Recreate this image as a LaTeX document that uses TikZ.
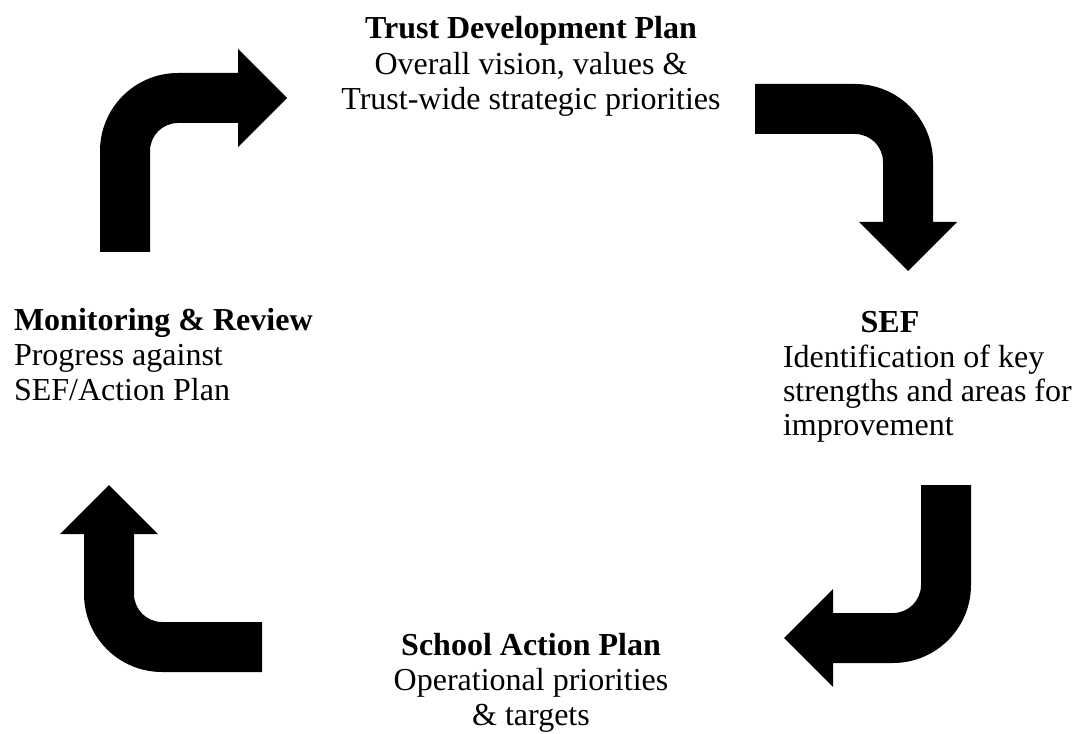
\documentclass[tikz,border=0pt]{standalone}
\usepackage{fontspec}
\setmainfont{Liberation Serif}
\begin{document}
\begin{tikzpicture}[x=0.75pt,y=-0.75pt,
  bentarrow/.style={fill=black,draw=none},
  txt/.style={inner sep=0pt,outer sep=0pt,font=\fontsize{24}{27}\selectfont},
  ttl/.style={txt,font=\fontsize{24}{27}\selectfont\bfseries}]
\useasboundingbox[fill=white] (0,0) rectangle (1074,734);

% top-left arrow (up, then right)
\fill[bentarrow] (100,252) -- (100,151) arc[start angle=180,end angle=270,radius=78]
  -- (238,73) -- (238,49) -- (287,98) -- (238,147) -- (238,123) -- (178,123)
  arc[start angle=270,end angle=180,radius=28] -- (150,252) -- cycle;

% top-right arrow (right, then down)
\fill[bentarrow] (755,84) -- (855,84) arc[start angle=270,end angle=360,radius=78]
  -- (933,222) -- (957,222) -- (908,271) -- (859,222) -- (883,222) -- (883,162)
  arc[start angle=0,end angle=-90,radius=28] -- (755,134) -- cycle;

% bottom-right arrow (down, then left)
\fill[bentarrow] (921,485) -- (971,485) -- (971,585) arc[start angle=0,end angle=90,radius=78]
  -- (833,663) -- (833,687) -- (784,638) -- (833,589) -- (833,613) -- (893,613)
  arc[start angle=90,end angle=0,radius=28] -- cycle;

% bottom-left arrow (left, then up)
\fill[bentarrow] (262,672) -- (162,672) arc[start angle=90,end angle=180,radius=78]
  -- (84,534) -- (60,534) -- (109,485) -- (158,534) -- (134,534) -- (134,594)
  arc[start angle=180,end angle=90,radius=28] -- (262,622) -- cycle;

% Trust Development Plan
\node[ttl,anchor=base] (tdp1) at (531,39) {Trust Development Plan};
\node[txt,anchor=base] (tdp2) at (531,75) {Overall vision, values \&};
\node[txt,anchor=base] (tdp3) at (531,110) {Trust-wide strategic priorities};

% SEF
\node[ttl,anchor=base] (sef1) at (890,332) {SEF};
\node[txt,anchor=base west] (sef2) at (783,367) {Identification of key};
\node[txt,anchor=base west] (sef3) at (783,401) {strengths and areas for};
\node[txt,anchor=base west] (sef4) at (783,435) {improvement};

% School Action Plan
\node[ttl,anchor=base] (sap1) at (531,655) {School Action Plan};
\node[txt,anchor=base] (sap2) at (531,690) {Operational priorities};
\node[txt,anchor=base] (sap3) at (531,725) {\& targets};

% Monitoring & Review
\node[ttl,anchor=base west] (mr1) at (14,330) {Monitoring \& Review};
\node[txt,anchor=base west] (mr2) at (14,365) {Progress against};
\node[txt,anchor=base west] (mr3) at (14,400) {SEF/Action Plan};
\end{tikzpicture}
\end{document}
